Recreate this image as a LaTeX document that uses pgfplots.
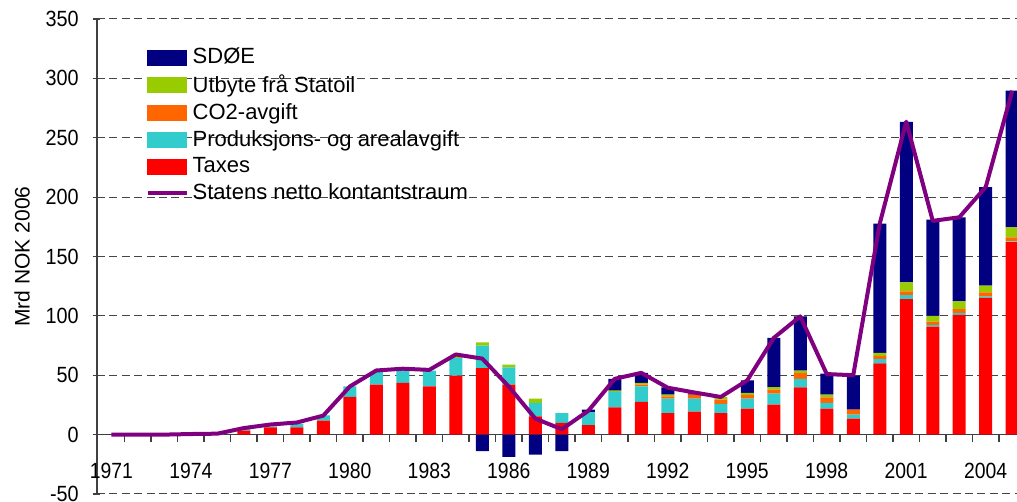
\documentclass[border=0pt]{standalone}
\usepackage{fontspec}
\setmainfont{Liberation Sans}
\usepackage{pgfplots}
\usepackage{pgfplotstable}
\pgfplotsset{compat=1.18}
\definecolor{cNavy}{RGB}{0,0,128}
\definecolor{cGreen}{RGB}{153,204,0}
\definecolor{cOrange}{RGB}{255,102,0}
\definecolor{cCyan}{RGB}{51,204,204}
\definecolor{cRed}{RGB}{255,0,0}
\definecolor{cPurple}{RGB}{128,0,128}
\definecolor{cGrid}{RGB}{70,70,70}

\pgfplotstableread{
year taxes prod co2 utb sdoepos sdoeneg net
1971 0 0 0 0 0 0 0
1972 0 0 0 0 0 0 0
1973 0 0 0 0 0 0 0
1974 0 0 0 0 0 0 0.5
1975 0 0.5 0 0 0 0 0.8
1976 3.4 1.5 0 0 0 0 5.5
1977 6.2 0.8 0 0 0 0 8.5
1978 6.2 3.0 0 0 0 0 10.2
1979 11.8 4.5 0 0 0 0 16
1980 31.8 8.9 0 0 0 0 40.5
1981 42.1 11.0 0 0 0 0 54
1982 43.5 10.4 0 0 0 0 55.5
1983 40.7 13.2 0 0 0 0 54.5
1984 49.7 14.8 0 1.5 0 0 67.5
1985 56.1 18.8 0 2.8 0 -14 64
1986 42.1 14.6 0 2.2 0 -18.8 40.5
1987 15.4 11.3 0 3.6 0 -16.8 13.5
1988 9.8 8.4 0 0 0 -14 4.5
1989 8.1 10.7 0 0 2.2 0 20
1990 23.0 12.9 0 1.1 9.9 0 47
1991 27.5 13.2 1.4 1.4 8.4 0 52
1992 18.2 12.1 2.0 1.4 6.1 0 39.5
1993 19.4 10.9 3.4 0 1.0 0 35.5
1994 18.2 7.6 3.7 2.2 0 0 31.7
1995 21.9 8.4 3.1 1.7 10.6 0 45.7
1996 25.3 9.2 3.4 2.2 41.3 0 81.4
1997 39.8 7.1 5.0 2.0 45.7 0 99.6
1998 21.9 4.8 4.7 2.3 17.6 0 51
1999 13.5 3.3 4.2 0 28.7 0 50
2000 59.9 3.7 2.8 2.5 108.8 0 177.7
2001 114.0 3.5 3.1 7.6 135.2 0 263.5
2002 91.0 1.4 2.8 4.8 81.0 0 180
2003 100.8 1.5 3.3 6.5 70.9 0 183
2004 114.9 1.4 3.4 5.7 83.1 0 208.5
2005 162.0 0.8 3.4 8.4 115.0 0 289.6
}\data

\begin{document}
\begin{tikzpicture}
\useasboundingbox (-48.5pt,-4pt) rectangle (460pt,247pt);
\pgfplotsset{base/.style={scale only axis, width=460pt, height=237.5pt,
  xmin=1970.46, xmax=2005.18, ymin=-50, ymax=350}}
\begin{axis}[base,
  /pgf/number format/assume math mode=true,
  /pgf/number format/1000 sep={},
  ybar stacked, bar width=6.5pt,
  axis y line*=left, axis x line*=middle,
  axis line style={draw=black!75, line width=0.6pt},
  ytick={-50,0,...,350},
  ymajorgrids,
  grid style={draw=cGrid, line width=0.5pt, dash pattern=on 4pt off 2.2pt},
  xtick={1971.5,1972.5,...,2004.5}, xticklabels={},
  extra x ticks={1971,1974,...,2004},
  extra x tick style={major tick length=0pt},
  tick align=outside, major tick length=3.75pt,
  tick style={draw=black!75, line width=0.6pt},
  ytick style={xshift=1.5pt},
  x tick label style={font=\fontsize{11}{13}\selectfont, xscale=0.88, yshift=-10.5pt},
  y tick label style={font=\fontsize{11}{13}\selectfont, xscale=0.9, xshift=-2.5pt},
  ylabel={Mrd NOK 2006},
  ylabel style={font=\fontsize{10.5}{12}\selectfont, at={(axis description cs:-0.0815,0.5)}, anchor=center, rotate=0},
]
\addplot[fill=cRed, draw=none] table[x=year,y=taxes]{\data};
\addplot[fill=cCyan, draw=none] table[x=year,y=prod]{\data};
\addplot[fill=cOrange, draw=none] table[x=year,y=co2]{\data};
\addplot[fill=cGreen, draw=none] table[x=year,y=utb]{\data};
\addplot[fill=cNavy, draw=none] table[x=year,y=sdoepos]{\data};
\end{axis}
\begin{axis}[base, hide axis,
  legend cell align=left,
  legend style={draw=none, fill=none, inner sep=0pt, at={(rel axis cs:0.0525,0.948)}, anchor=north west,
    font=\fontsize{11}{13}\selectfont, row sep=0pt},
]
\addplot[ybar, bar width=6.5pt, fill=cNavy, draw=none, forget plot] table[x=year,y=sdoeneg]{\data};
\addplot[cPurple, line width=2pt, line join=round, forget plot] table[x=year,y=net]{\data};
\addlegendimage{legend image code/.code={\fill[cNavy] (0pt,-3.75pt) rectangle (19.5pt,3.75pt);}}
\addlegendentry{SDØE}
\addlegendimage{legend image code/.code={\fill[cGreen] (0pt,-3.75pt) rectangle (19.5pt,3.75pt);}}
\addlegendentry{Utbyte frå Statoil}
\addlegendimage{legend image code/.code={\fill[cOrange] (0pt,-3.75pt) rectangle (19.5pt,3.75pt);}}
\addlegendentry{CO2-avgift}
\addlegendimage{legend image code/.code={\fill[cCyan] (0pt,-3.75pt) rectangle (19.5pt,3.75pt);}}
\addlegendentry{Produksjons- og arealavgift}
\addlegendimage{legend image code/.code={\fill[cRed] (0pt,-3.75pt) rectangle (19.5pt,3.75pt);}}
\addlegendentry{Taxes}
\addlegendimage{legend image code/.code={\draw[cPurple, line width=2pt] (0pt,0pt) -- (19.5pt,0pt);}}
\addlegendentry{Statens netto kontantstraum}
\end{axis}
\end{tikzpicture}
\end{document}
